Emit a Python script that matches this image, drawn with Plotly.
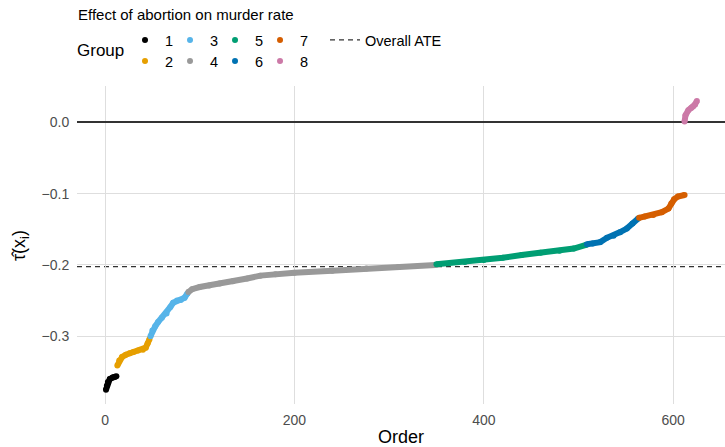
import plotly.graph_objects as go

# ---- data ----
groups = ["1", "2", "3", "4", "5", "6", "7", "8"]
colors = ["#000000", "#E69F00", "#56B4E9", "#999999", "#009E73", "#0072B2", "#D55E00", "#CC79A7"]

g1_x = [1, 2, 3, 5, 8, 10, 12]
g1_y = [-0.375, -0.369, -0.364, -0.360, -0.358, -0.357, -0.356]
g2_x = [13, 15, 18, 22, 26, 30, 35, 40, 43, 45, 47]
g2_y = [-0.341, -0.334, -0.329, -0.326, -0.324, -0.322, -0.320, -0.319, -0.316, -0.310, -0.304]
g3_x = [48, 50, 53, 56, 60, 65, 69, 72, 76, 80, 84, 87]
g3_y = [-0.300, -0.292, -0.286, -0.280, -0.274, -0.268, -0.259, -0.253, -0.250, -0.249, -0.246, -0.240]
g4_x = [88, 92, 100, 110, 121, 135, 150, 164, 180, 200, 240, 276, 310, 349]
g4_y = [-0.238, -0.234, -0.231, -0.229, -0.226, -0.223, -0.219, -0.215, -0.213, -0.211, -0.208, -0.205, -0.203, -0.200]
g5_x = [350, 380, 400, 420, 440, 460, 480, 495, 508]
g5_y = [-0.199, -0.196, -0.193, -0.190, -0.186, -0.183, -0.180, -0.177, -0.172]
g6_x = [509, 515, 523, 530, 537, 544, 551, 557, 563]
g6_y = [-0.171, -0.170, -0.168, -0.162, -0.159, -0.154, -0.149, -0.142, -0.135]
g7_x = [564, 570, 579, 588, 595, 598, 601, 605, 612]
g7_y = [-0.134, -0.132, -0.130, -0.126, -0.121, -0.114, -0.108, -0.104, -0.102]
g8_x = [612, 613, 616, 619, 621, 623, 625]
g8_y = [0.001, 0.010, 0.017, 0.020, 0.022, 0.025, 0.030]

xs = [g1_x, g2_x, g3_x, g4_x, g5_x, g6_x, g7_x, g8_x]
ys = [g1_y, g2_y, g3_y, g4_y, g5_y, g6_y, g7_y, g8_y]

ate = -0.2025
x_ticks = [0, 200, 400, 600]
y_ticks = [0.0, -0.1, -0.2, -0.3]
y_tick_labels = ["0.0", "\u22120.1", "\u22120.2", "\u22120.3"]

FONT = "Liberation Sans, Arial, Helvetica, sans-serif"

fig = go.Figure()

fig.add_hline(y=ate, line=dict(color="#333333", width=1.2, dash="5px,4px"), layer="below")

for g, c, x, y in zip(groups, colors, xs, ys):
    fig.add_trace(go.Scatter(x=x, y=y, mode="lines+markers",
                             line=dict(color=c, width=6),
                             marker=dict(color=c, size=6),
                             showlegend=False, hoverinfo="skip"))

# legend keys
for i, (g, c) in enumerate(zip(groups, colors)):
    fig.add_trace(go.Scatter(x=[None], y=[None], mode="markers", name=g,
                             marker=dict(color=c, size=6),
                             legend="legend" if i % 2 == 0 else "legend2",
                             legendrank=i,
                             legendwidth=20 if i >= 6 else None))
fig.add_trace(go.Scatter(x=[None], y=[None], mode="lines", name="Overall ATE",
                         line=dict(color="#333333", width=1.2, dash="5px,4px"),
                         legend="legend3"))

PL, PT, PW, PH = 77, 86, 648, 318

def px_x(p):
    return (p - PL) / PW

def px_y(p):
    return (PT + PH - p) / PH

legend_common = dict(orientation="h", font=dict(family=FONT, size=14.5, color="#000000"),
                     bgcolor="rgba(0,0,0,0)", borderwidth=0, xanchor="left", yanchor="middle",
                     itemwidth=30, tracegroupgap=0)

fig.update_layout(
    width=725, height=447,
    margin=dict(l=PL, r=725 - PL - PW, t=PT, b=447 - PT - PH, autoexpand=False),
    paper_bgcolor="white", plot_bgcolor="white",
    font=dict(family=FONT, color="#000000"),
    xaxis=dict(range=[-29.6, 654.7], tickvals=x_ticks, showgrid=True, gridcolor="#dedede", gridwidth=1,
               zeroline=False, showline=False, ticks="outside", ticklen=3, tickcolor="rgba(0,0,0,0)",
               tickfont=dict(family=FONT, size=14, color="#4d4d4d"),
               title=dict(text="Order", font=dict(family=FONT, size=18, color="#000000"), standoff=11)),
    yaxis=dict(range=[-0.395, 0.0509], tickvals=y_ticks, ticktext=y_tick_labels, showgrid=True,
               gridcolor="#dedede", gridwidth=1, zeroline=True, zerolinecolor="#333333", zerolinewidth=1.5,
               showline=False,
               ticks="outside", ticklen=4, tickcolor="rgba(0,0,0,0)",
               tickfont=dict(family=FONT, size=14, color="#4d4d4d")),
    legend=dict(**legend_common, x=px_x(125), y=px_y(40), entrywidthmode="pixels", entrywidth=0.01),
    legend2=dict(**legend_common, x=px_x(125), y=px_y(61), entrywidthmode="pixels", entrywidth=0.01),
    legend3=dict(**legend_common, x=px_x(325), y=px_y(40)),
    annotations=[
        dict(text="Effect of abortion on murder rate", xref="paper", yref="paper",
             x=px_x(76), y=px_y(14), xanchor="left", yanchor="middle", showarrow=False,
             font=dict(family=FONT, size=15, color="#000000")),
        dict(text="Group", xref="paper", yref="paper",
             x=px_x(75), y=px_y(50), xanchor="left", yanchor="middle", showarrow=False,
             font=dict(family=FONT, size=17, color="#000000")),
        dict(text="\u03c4\u0302(x<sub>i</sub>)", xref="paper", yref="paper",
             x=px_x(20), y=px_y(246), xanchor="center", yanchor="middle", showarrow=False,
             textangle=-90, font=dict(family=FONT, size=18, color="#000000")),
    ],
)

fig.write_html("out.html", config={"displayModeBar": False},
               post_script="document.body.style.margin='0px';document.body.style.overflow='hidden';")
